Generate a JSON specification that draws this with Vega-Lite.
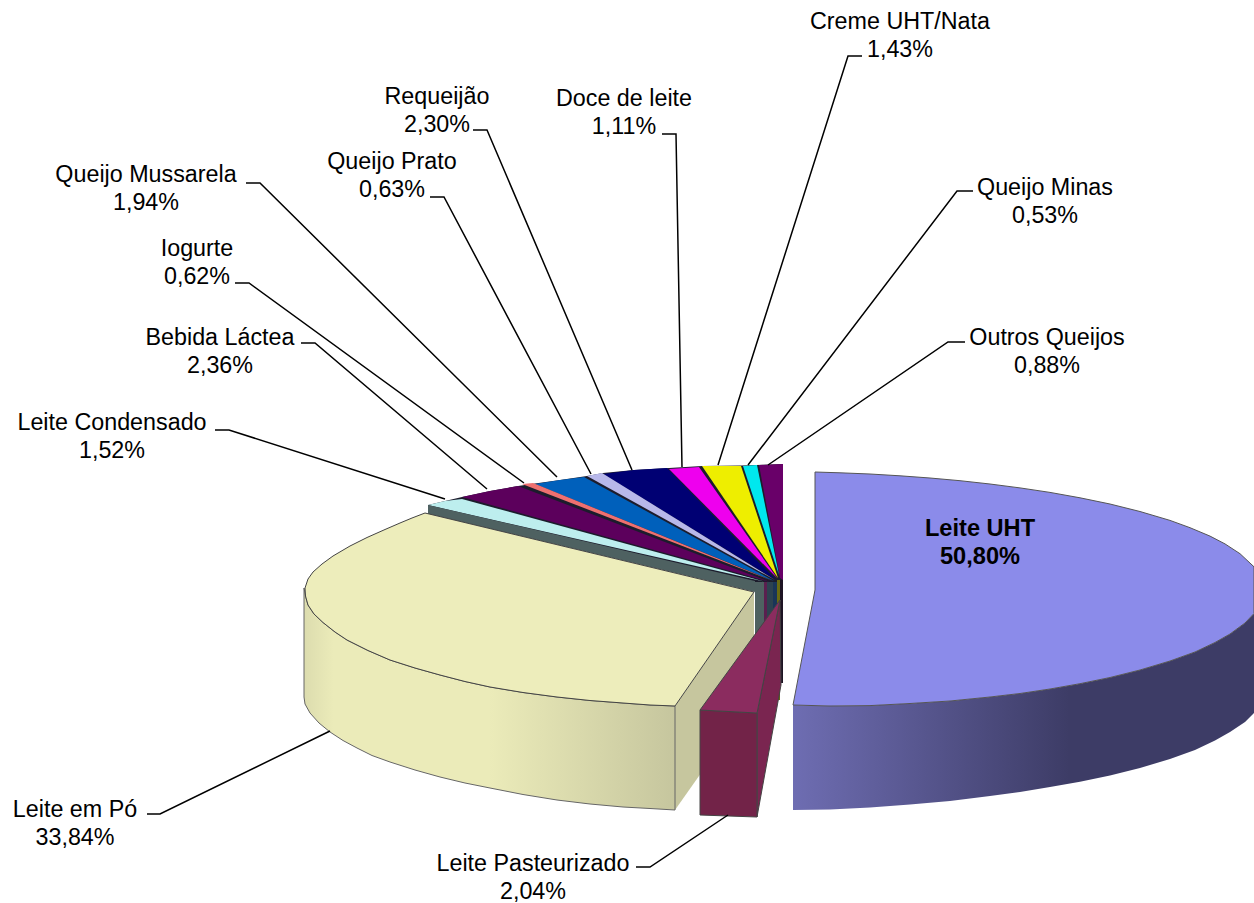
{
"$schema":"https://vega.github.io/schema/vega-lite/v6.json",
"width":1254,"height":903,"padding":0,"autosize":{"type":"none"},
"background":"white",
"config":{"view":{"stroke":null}},
"resolve":{"scale":{"fill":"independent"}},
"encoding":{"x":{"field":"x","type":"quantitative","scale":{"domain":[0,1254],"nice":false,"zero":false},"axis":null},"y":{"field":"y","type":"quantitative","scale":{"domain":[903,0],"nice":false,"zero":false},"axis":null}},
"datasets":{
"shapes":[
{"p":"base","i":0,"x":783,"y":464},{"p":"base","i":1,"x":741,"y":465.5},{"p":"base","i":2,"x":702,"y":466},{"p":"base","i":3,"x":669,"y":468},{"p":"base","i":4,"x":634,"y":470},{"p":"base","i":5,"x":603,"y":473},{"p":"base","i":6,"x":587,"y":476},{"p":"base","i":7,"x":560,"y":480},{"p":"base","i":8,"x":535,"y":483.5},{"p":"base","i":9,"x":518,"y":486},{"p":"base","i":10,"x":490,"y":491},{"p":"base","i":11,"x":462,"y":497},{"p":"base","i":12,"x":428,"y":505},{"p":"base","i":13,"x":428,"y":514},{"p":"base","i":14,"x":783,"y":590},
{"p":"s1","i":0,"x":755,"y":582},{"p":"s1","i":1,"x":764,"y":582},{"p":"s1","i":2,"x":764,"y":700},{"p":"s1","i":3,"x":755,"y":700},
{"p":"s2","i":0,"x":764,"y":582},{"p":"s2","i":1,"x":767,"y":582},{"p":"s2","i":2,"x":767,"y":700},{"p":"s2","i":3,"x":764,"y":700},
{"p":"s3","i":0,"x":767,"y":582},{"p":"s3","i":1,"x":773,"y":582},{"p":"s3","i":2,"x":773,"y":700},{"p":"s3","i":3,"x":767,"y":700},
{"p":"s4","i":0,"x":773,"y":582},{"p":"s4","i":1,"x":777,"y":582},{"p":"s4","i":2,"x":777,"y":700},{"p":"s4","i":3,"x":773,"y":700},
{"p":"s5","i":0,"x":777,"y":580},{"p":"s5","i":1,"x":780,"y":580},{"p":"s5","i":2,"x":780,"y":700},{"p":"s5","i":3,"x":777,"y":700},
{"p":"s6","i":0,"x":780,"y":580},{"p":"s6","i":1,"x":783,"y":580},{"p":"s6","i":2,"x":783,"y":683},{"p":"s6","i":3,"x":780,"y":683},
{"p":"Outros Queijos","i":0,"x":783,"y":464},{"p":"Outros Queijos","i":1,"x":759,"y":465},{"p":"Outros Queijos","i":2,"x":780,"y":578},{"p":"Outros Queijos","i":3,"x":783,"y":580},
{"p":"Queijo Minas","i":0,"x":757,"y":465},{"p":"Queijo Minas","i":1,"x":743,"y":466},{"p":"Queijo Minas","i":2,"x":779,"y":575},
{"p":"Creme UHT/Nata","i":0,"x":741,"y":466},{"p":"Creme UHT/Nata","i":1,"x":702,"y":466},{"p":"Creme UHT/Nata","i":2,"x":778,"y":578},
{"p":"Doce de leite","i":0,"x":699,"y":467},{"p":"Doce de leite","i":1,"x":669,"y":469},{"p":"Doce de leite","i":2,"x":777,"y":578},
{"p":"Requeijão","i":0,"x":667,"y":468},{"p":"Requeijão","i":1,"x":634,"y":470},{"p":"Requeijão","i":2,"x":603,"y":474},{"p":"Requeijão","i":3,"x":776,"y":580},
{"p":"Queijo Prato","i":0,"x":602,"y":473},{"p":"Queijo Prato","i":1,"x":587,"y":476},{"p":"Queijo Prato","i":2,"x":775,"y":580},
{"p":"Queijo Mussarela","i":0,"x":584,"y":477},{"p":"Queijo Mussarela","i":1,"x":560,"y":480},{"p":"Queijo Mussarela","i":2,"x":535,"y":484},{"p":"Queijo Mussarela","i":3,"x":774,"y":581},
{"p":"Iogurte","i":0,"x":533,"y":483},{"p":"Iogurte","i":1,"x":522,"y":484},{"p":"Iogurte","i":2,"x":773,"y":581},
{"p":"Bebida Láctea","i":0,"x":518,"y":486},{"p":"Bebida Láctea","i":1,"x":490,"y":491},{"p":"Bebida Láctea","i":2,"x":462,"y":497},{"p":"Bebida Láctea","i":3,"x":770,"y":582},
{"p":"Leite Condensado","i":0,"x":462,"y":499},{"p":"Leite Condensado","i":1,"x":445,"y":501},{"p":"Leite Condensado","i":2,"x":428,"y":505},{"p":"Leite Condensado","i":3,"x":766,"y":582},
{"p":"condensado lado","i":0,"x":428,"y":505},{"p":"condensado lado","i":1,"x":755,"y":581},{"p":"condensado lado","i":2,"x":755,"y":592},{"p":"condensado lado","i":3,"x":428,"y":514},
{"p":"po corte","i":0,"x":675,"y":706},{"p":"po corte","i":1,"x":754,"y":592},{"p":"po corte","i":2,"x":754,"y":698},{"p":"po corte","i":3,"x":675,"y":810},
{"p":"pasteurizado lado","i":0,"x":757,"y":713},{"p":"pasteurizado lado","i":1,"x":780,"y":600},{"p":"pasteurizado lado","i":2,"x":781,"y":685},{"p":"pasteurizado lado","i":3,"x":757,"y":817},
{"p":"pasteurizado frente","i":0,"x":700,"y":710},{"p":"pasteurizado frente","i":1,"x":757,"y":713},{"p":"pasteurizado frente","i":2,"x":757,"y":817},{"p":"pasteurizado frente","i":3,"x":700,"y":815},
{"p":"Leite Pasteurizado","i":0,"x":780,"y":600},{"p":"Leite Pasteurizado","i":1,"x":700,"y":710},{"p":"Leite Pasteurizado","i":2,"x":757,"y":713},
{"p":"Leite em Pó","i":0,"x":425,"y":513},{"p":"Leite em Pó","i":1,"x":412,"y":518},{"p":"Leite em Pó","i":2,"x":400,"y":523},{"p":"Leite em Pó","i":3,"x":385,"y":529.5},{"p":"Leite em Pó","i":4,"x":367,"y":537.5},{"p":"Leite em Pó","i":5,"x":350,"y":546},{"p":"Leite em Pó","i":6,"x":333,"y":556},{"p":"Leite em Pó","i":7,"x":322,"y":564},{"p":"Leite em Pó","i":8,"x":313,"y":572},{"p":"Leite em Pó","i":9,"x":308,"y":579},{"p":"Leite em Pó","i":10,"x":305,"y":588},{"p":"Leite em Pó","i":11,"x":305.5,"y":596},{"p":"Leite em Pó","i":12,"x":308,"y":605},{"p":"Leite em Pó","i":13,"x":314,"y":614},{"p":"Leite em Pó","i":14,"x":323,"y":622.5},{"p":"Leite em Pó","i":15,"x":335,"y":632},{"p":"Leite em Pó","i":16,"x":347,"y":640},{"p":"Leite em Pó","i":17,"x":368,"y":650.5},{"p":"Leite em Pó","i":18,"x":390,"y":660},{"p":"Leite em Pó","i":19,"x":415,"y":668},{"p":"Leite em Pó","i":20,"x":440,"y":675},{"p":"Leite em Pó","i":21,"x":465,"y":681.5},{"p":"Leite em Pó","i":22,"x":490,"y":687},{"p":"Leite em Pó","i":23,"x":523,"y":692.5},{"p":"Leite em Pó","i":24,"x":557,"y":697},{"p":"Leite em Pó","i":25,"x":590,"y":700.5},{"p":"Leite em Pó","i":26,"x":623,"y":703},{"p":"Leite em Pó","i":27,"x":650,"y":705},{"p":"Leite em Pó","i":28,"x":675,"y":706},{"p":"Leite em Pó","i":29,"x":754,"y":592},
{"p":"Leite UHT","i":0,"x":815,"y":472},{"p":"Leite UHT","i":1,"x":840,"y":472.8},{"p":"Leite UHT","i":2,"x":870,"y":474},{"p":"Leite UHT","i":3,"x":900,"y":475.8},{"p":"Leite UHT","i":4,"x":930,"y":478},{"p":"Leite UHT","i":5,"x":960,"y":480.7},{"p":"Leite UHT","i":6,"x":990,"y":484},{"p":"Leite UHT","i":7,"x":1020,"y":487.9},{"p":"Leite UHT","i":8,"x":1050,"y":492.4},{"p":"Leite UHT","i":9,"x":1080,"y":497.8},{"p":"Leite UHT","i":10,"x":1110,"y":504},{"p":"Leite UHT","i":11,"x":1140,"y":511.5},{"p":"Leite UHT","i":12,"x":1170,"y":520.4},{"p":"Leite UHT","i":13,"x":1190,"y":527.7},{"p":"Leite UHT","i":14,"x":1210,"y":536.1},{"p":"Leite UHT","i":15,"x":1225,"y":543.9},{"p":"Leite UHT","i":16,"x":1240,"y":553.7},{"p":"Leite UHT","i":17,"x":1254,"y":566.8},{"p":"Leite UHT","i":18,"x":1254,"y":613.5},{"p":"Leite UHT","i":19,"x":1245,"y":623},{"p":"Leite UHT","i":20,"x":1230,"y":634},{"p":"Leite UHT","i":21,"x":1215,"y":642.5},{"p":"Leite UHT","i":22,"x":1195,"y":652},{"p":"Leite UHT","i":23,"x":1170,"y":661},{"p":"Leite UHT","i":24,"x":1140,"y":670},{"p":"Leite UHT","i":25,"x":1110,"y":677.5},{"p":"Leite UHT","i":26,"x":1080,"y":683.7},{"p":"Leite UHT","i":27,"x":1050,"y":689},{"p":"Leite UHT","i":28,"x":1020,"y":693.5},{"p":"Leite UHT","i":29,"x":990,"y":697},{"p":"Leite UHT","i":30,"x":950,"y":701},{"p":"Leite UHT","i":31,"x":910,"y":703.5},{"p":"Leite UHT","i":32,"x":870,"y":705.6},{"p":"Leite UHT","i":33,"x":830,"y":706},{"p":"Leite UHT","i":34,"x":793,"y":705},{"p":"Leite UHT","i":35,"x":815,"y":590}
],
"poSide":[
{"i":0,"x":304,"y":588},{"i":1,"x":305.5,"y":596},{"i":2,"x":308,"y":605},{"i":3,"x":314,"y":614},{"i":4,"x":323,"y":622.5},{"i":5,"x":335,"y":632},{"i":6,"x":347,"y":640},{"i":7,"x":368,"y":650.5},{"i":8,"x":390,"y":660},{"i":9,"x":415,"y":668},{"i":10,"x":440,"y":675},{"i":11,"x":465,"y":681.5},{"i":12,"x":490,"y":687},{"i":13,"x":523,"y":692.5},{"i":14,"x":557,"y":697},{"i":15,"x":590,"y":700.5},{"i":16,"x":623,"y":703},{"i":17,"x":650,"y":705},{"i":18,"x":675,"y":706},{"i":19,"x":675,"y":810},{"i":20,"x":650,"y":808.5},{"i":21,"x":623,"y":807},{"i":22,"x":590,"y":804},{"i":23,"x":557,"y":800},{"i":24,"x":523,"y":794.5},{"i":25,"x":490,"y":788},{"i":26,"x":465,"y":783},{"i":27,"x":440,"y":777},{"i":28,"x":415,"y":770},{"i":29,"x":390,"y":762},{"i":30,"x":372,"y":755.5},{"i":31,"x":357,"y":748},{"i":32,"x":343,"y":740.5},{"i":33,"x":330,"y":732},{"i":34,"x":319,"y":723},{"i":35,"x":310,"y":713},{"i":36,"x":305,"y":704},{"i":37,"x":304,"y":697}
],
"uhtSide":[
{"i":0,"x":793,"y":705},{"i":1,"x":830,"y":706},{"i":2,"x":870,"y":705.6},{"i":3,"x":910,"y":703.5},{"i":4,"x":950,"y":701},{"i":5,"x":990,"y":697},{"i":6,"x":1020,"y":693.5},{"i":7,"x":1050,"y":689},{"i":8,"x":1080,"y":683.7},{"i":9,"x":1110,"y":677.5},{"i":10,"x":1140,"y":670},{"i":11,"x":1170,"y":661},{"i":12,"x":1195,"y":652},{"i":13,"x":1215,"y":642.5},{"i":14,"x":1230,"y":634},{"i":15,"x":1245,"y":623},{"i":16,"x":1254,"y":613.5},{"i":17,"x":1254,"y":713},{"i":18,"x":1245,"y":722},{"i":19,"x":1230,"y":732},{"i":20,"x":1215,"y":740.5},{"i":21,"x":1195,"y":750},{"i":22,"x":1170,"y":759},{"i":23,"x":1140,"y":768},{"i":24,"x":1110,"y":775.5},{"i":25,"x":1080,"y":781.7},{"i":26,"x":1050,"y":787},{"i":27,"x":1020,"y":792},{"i":28,"x":990,"y":796},{"i":29,"x":950,"y":801},{"i":30,"x":910,"y":804.5},{"i":31,"x":870,"y":807.6},{"i":32,"x":830,"y":809.5},{"i":33,"x":793,"y":810}
],
"leaders":[
{"n":"Creme UHT/Nata","i":0,"x":862,"y":56},{"n":"Creme UHT/Nata","i":1,"x":848,"y":56},{"n":"Creme UHT/Nata","i":2,"x":718,"y":465},
{"n":"Queijo Minas","i":0,"x":973,"y":191},{"n":"Queijo Minas","i":1,"x":957,"y":191},{"n":"Queijo Minas","i":2,"x":748,"y":465},
{"n":"Outros Queijos","i":0,"x":965,"y":342},{"n":"Outros Queijos","i":1,"x":948,"y":342},{"n":"Outros Queijos","i":2,"x":768,"y":465},
{"n":"Doce de leite","i":0,"x":662,"y":134},{"n":"Doce de leite","i":1,"x":676,"y":134},{"n":"Doce de leite","i":2,"x":682,"y":467},
{"n":"Requeijão","i":0,"x":473,"y":130},{"n":"Requeijão","i":1,"x":487,"y":130},{"n":"Requeijão","i":2,"x":632,"y":470},
{"n":"Queijo Prato","i":0,"x":430,"y":197},{"n":"Queijo Prato","i":1,"x":444,"y":197},{"n":"Queijo Prato","i":2,"x":591,"y":474},
{"n":"Queijo Mussarela","i":0,"x":246,"y":183},{"n":"Queijo Mussarela","i":1,"x":260,"y":183},{"n":"Queijo Mussarela","i":2,"x":557,"y":477},
{"n":"Iogurte","i":0,"x":235,"y":283},{"n":"Iogurte","i":1,"x":249,"y":283},{"n":"Iogurte","i":2,"x":524,"y":483},
{"n":"Bebida Láctea","i":0,"x":301,"y":343},{"n":"Bebida Láctea","i":1,"x":315,"y":343},{"n":"Bebida Láctea","i":2,"x":487,"y":489},
{"n":"Leite Condensado","i":0,"x":215,"y":430},{"n":"Leite Condensado","i":1,"x":229,"y":430},{"n":"Leite Condensado","i":2,"x":445,"y":499},
{"n":"Leite em Pó","i":0,"x":147,"y":814},{"n":"Leite em Pó","i":1,"x":160,"y":814},{"n":"Leite em Pó","i":2,"x":330,"y":731},
{"n":"Leite Pasteurizado","i":0,"x":636,"y":867},{"n":"Leite Pasteurizado","i":1,"x":650,"y":867},{"n":"Leite Pasteurizado","i":2,"x":728,"y":815}
],
"labels":[
{"t":"Creme UHT/Nata\n1,43%","x":900,"y":22},
{"t":"Queijo Minas\n0,53%","x":1045,"y":188},
{"t":"Outros Queijos\n0,88%","x":1047,"y":338},
{"t":"Doce de leite\n1,11%","x":624,"y":99},
{"t":"Requeijão\n2,30%","x":437,"y":97},
{"t":"Queijo Prato\n0,63%","x":392,"y":162},
{"t":"Queijo Mussarela\n1,94%","x":146,"y":175},
{"t":"Iogurte\n0,62%","x":197,"y":249},
{"t":"Bebida Láctea\n2,36%","x":220,"y":338},
{"t":"Leite Condensado\n1,52%","x":112,"y":423},
{"t":"Leite em Pó\n33,84%","x":75,"y":810},
{"t":"Leite Pasteurizado\n2,04%","x":533,"y":864}
],
"labelBold":[{"t":"Leite UHT\n50,80%","x":980,"y":529}]
},
"layer":[
{"data":{"name":"shapes"},"transform":[{"filter":"datum.p!='Leite UHT'&&datum.p!='Leite em Pó'&&datum.p!='Leite Pasteurizado'&&datum.p!='pasteurizado lado'&&datum.p!='pasteurizado frente'"}],
 "mark":{"type":"line","filled":true,"strokeWidth":0,"interpolate":"linear-closed"},
 "encoding":{"order":{"field":"i"},
 "fill":{"field":"p","type":"nominal","legend":null,"scale":{"domain":["base","s1","s2","s3","s4","s5","s6","Outros Queijos","Queijo Minas","Creme UHT/Nata","Doce de leite","Requeijão","Queijo Prato","Queijo Mussarela","Iogurte","Bebida Láctea","Leite Condensado","condensado lado","po corte"],"range":["#1c1c2c","#4e6161","#5a1f4f","#2d4250","#1a3558","#6a6a10","#1e1424","#690069","#00e8ee","#eeee00","#ee00ee","#000073","#b8b8ea","#0060bb","#ee7070","#5c005c","#bdeeee","#4e6161","#c6c69e"]}}}},
{"data":{"name":"poSide"},"mark":{"type":"line","filled":true,"strokeWidth":0,"interpolate":"linear-closed","fill":{"x1":0,"y1":0,"x2":1,"y2":0,"gradient":"linear","stops":[{"offset":0,"color":"#dcdcae"},{"offset":0.08,"color":"#ebebb9"},{"offset":0.5,"color":"#ebebb9"},{"offset":1,"color":"#c6c69e"}]}},
 "encoding":{"order":{"field":"i"}}},
{"data":{"name":"poSide"},"mark":{"type":"line","stroke":"#666","strokeWidth":1,"interpolate":"linear-closed"},
 "encoding":{"order":{"field":"i"}}},
{"data":{"name":"shapes"},"transform":[{"filter":"datum.p=='Leite em Pó'||datum.p=='pasteurizado lado'||datum.p=='pasteurizado frente'||datum.p=='Leite Pasteurizado'"}],
 "mark":{"type":"line","filled":true,"stroke":"#444","strokeWidth":1,"interpolate":"linear-closed"},
 "encoding":{"order":{"field":"i"},
 "fill":{"field":"p","type":"nominal","legend":null,"scale":{"domain":["Leite em Pó","pasteurizado lado","pasteurizado frente","Leite Pasteurizado"],"range":["#ededbb","#7a2550","#722348","#8b2c5f"]}}}},
{"data":{"name":"uhtSide"},"mark":{"type":"line","filled":true,"strokeWidth":0,"interpolate":"linear-closed","fill":{"x1":0,"y1":0,"x2":1,"y2":0,"gradient":"linear","stops":[{"offset":0,"color":"#6e6db2"},{"offset":0.6,"color":"#3d3c66"},{"offset":1,"color":"#3d3c66"}]}},
 "encoding":{"order":{"field":"i"}}},
{"data":{"name":"shapes"},"transform":[{"filter":"datum.p=='Leite UHT'"}],
 "mark":{"type":"line","filled":true,"fill":"#8b8bea","stroke":"#555","strokeWidth":1,"interpolate":"linear-closed"},
 "encoding":{"order":{"field":"i"}}},
{"data":{"name":"leaders"},"mark":{"type":"line","stroke":"#000","strokeWidth":1.5},
 "encoding":{"order":{"field":"i"},"detail":{"field":"n"}}},
{"data":{"name":"labels"},"mark":{"type":"text","font":"Liberation Sans","fontSize":23.3,"lineBreak":"\n","lineHeight":27.5,"align":"center","baseline":"middle","color":"#000"},
 "encoding":{"text":{"field":"t"}}},
{"data":{"name":"labelBold"},"mark":{"type":"text","font":"Liberation Sans","fontWeight":"bold","fontSize":23.6,"lineBreak":"\n","lineHeight":27.5,"align":"center","baseline":"middle","color":"#000"},
 "encoding":{"text":{"field":"t"}}}
]
}
